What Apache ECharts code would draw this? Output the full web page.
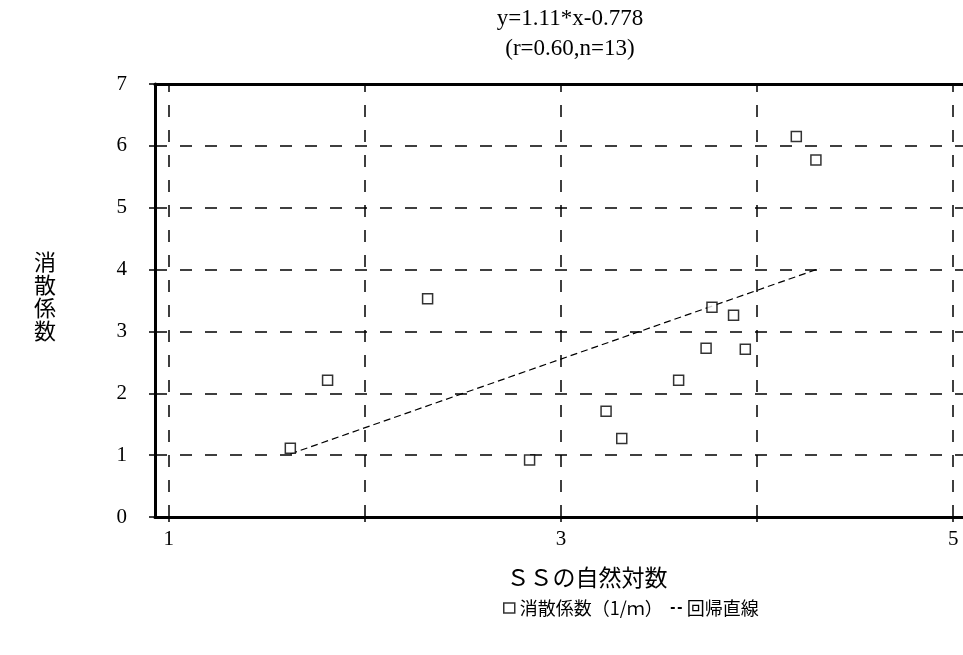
<!DOCTYPE html>
<html>
<head>
<meta charset="utf-8">
<script src="https://cdn.jsdelivr.net/npm/echarts@6/dist/echarts.min.js"></script>
<style>html,body{margin:0;padding:0;background:#fff;}#c{width:963px;height:655px;}</style>
</head>
<body>
<div id="c"></div>
<script>
const pointX = [1.62, 1.81, 2.32, 2.84, 3.23, 3.31, 3.60, 3.74, 3.77, 3.88, 3.94, 4.20, 4.30];
const pointY = [1.11, 2.21, 3.53, 0.92, 1.71, 1.27, 2.21, 2.73, 3.39, 3.26, 2.71, 6.15, 5.77];
const lineX = [1.62, 4.32];
const lineY = [1.02, 4.02];
const xGridValues = [1, 2, 3, 4, 5];
const xLabelValues = [1, 3, 5];
const titleLines = ['y=1.11*x-0.778', '(r=0.60,n=13)'];
const serif = 'Liberation Serif';
const cjk = 'Noto Sans CJK JP';

const chart = echarts.init(document.getElementById('c'));
chart.setOption({
  animation: false,
  backgroundColor: '#fff',
  title: [
    { text: titleLines[0], left: 565, top: 2, textAlign: 'center',
      textStyle: { fontFamily: serif, fontSize: 23, fontWeight: 'normal', color: '#000' } },
    { text: titleLines[1], left: 565, top: 32, textAlign: 'center',
      textStyle: { fontFamily: serif, fontSize: 23, fontWeight: 'normal', color: '#000' } }
  ],
  grid: { left: 155, right: 0, top: 84, bottom: 138 },
  xAxis: [{
    type: 'value', min: 0.93, max: 5.05,
    axisLine: { lineStyle: { color: '#000', width: 3 } },
    axisTick: { show: true, customValues: xGridValues, length: 5, lineStyle: { color: '#000', width: 1.5 } },
    axisLabel: { customValues: xLabelValues, color: '#000', fontFamily: serif, fontSize: 21, margin: 12 },
    splitLine: { show: false },
    name: 'ＳＳの自然対数', nameLocation: 'middle', nameGap: 49,
    nameTextStyle: { fontFamily: cjk, fontSize: 23, color: '#000', padding: [0, 0, 0, 56] }
  }, {
    type: 'value', position: 'top', min: 0.93, max: 5.05,
    axisLine: { show: true, lineStyle: { color: '#000', width: 3 } },
    axisTick: { show: false }, axisLabel: { show: false }, splitLine: { show: false }
  }],
  yAxis: {
    type: 'value', min: 0, max: 7, interval: 1,
    axisLine: { show: true, lineStyle: { color: '#000', width: 3 } },
    axisTick: { show: true, length: 6, lineStyle: { color: '#000', width: 1.5 } },
    axisLabel: { color: '#000', fontFamily: serif, fontSize: 21, margin: 28 },
    splitLine: { show: true, lineStyle: { color: '#000', width: 1.5, type: [12, 13] } }
  },
  legend: {
    top: 594, left: 498, itemGap: 8, itemWidth: 11, itemHeight: 10,
    textStyle: { fontFamily: cjk, fontSize: 18, color: '#000' },
    data: [
      { name: '消散係数（1/ｍ）', icon: 'rect', itemStyle: { color: '#fff', borderColor: '#000', borderWidth: 1.5 } },
      { name: '回帰直線', icon: 'path://M0,4h4v2h-4z M7,4h4v2h-4z', itemStyle: { color: '#000', borderWidth: 0 } }
    ]
  },
  graphic: [{
    type: 'text', left: 34, top: 250,
    style: { text: '消\n散\n係\n数', font: '22px "Noto Sans CJK JP"', lineHeight: 23, fill: '#000' }
  }],
  series: [{
    name: '消散係数（1/ｍ）', type: 'scatter',
    data: pointX.map((x, i) => [x, pointY[i]]),
    symbol: 'rect', symbolSize: 10,
    itemStyle: { color: '#fff', borderColor: '#000', borderWidth: 1.5 },
    z: 5
  }, {
    name: '回帰直線', type: 'line',
    data: lineX.map((x, i) => [x, lineY[i]]),
    symbol: 'none',
    itemStyle: { color: '#000' },
    lineStyle: { color: '#000', width: 1.2, type: [7, 4] },
    markLine: {
      silent: true, symbol: 'none', label: { show: false },
      lineStyle: { color: '#000', width: 1.5, type: [12, 13] },
      data: xGridValues.map(v => ({ xAxis: v }))
    },
    z: 4
  }]
});
</script>
</body>
</html>
